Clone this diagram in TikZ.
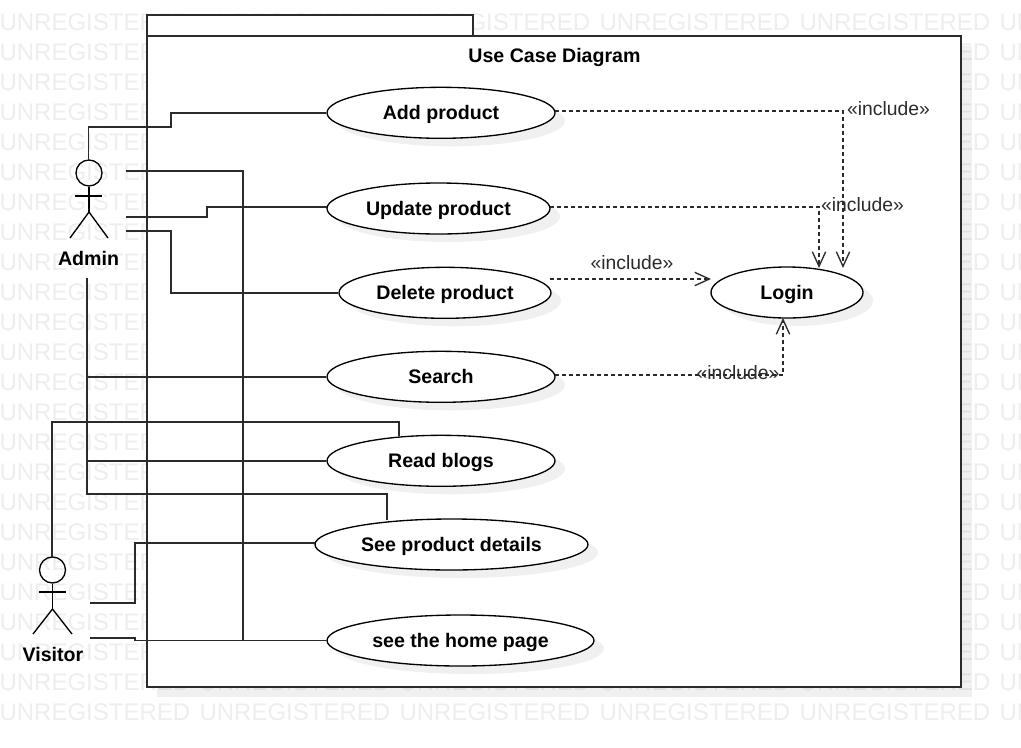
\documentclass[tikz,border=0pt]{standalone}
\usepackage{fontspec}
\setmainfont{Liberation Sans}
\usetikzlibrary{arrows.meta,shapes.geometric}
\definecolor{wm}{HTML}{EEEEEE}
\definecolor{ln}{HTML}{2B2B2B}
\tikzset{
  x=0.75pt,y=-0.75pt,
  watermark/.style={text=wm,font=\fontsize{18}{18}\selectfont,inner sep=0,anchor=west},
  frameline/.style={draw=ln,line width=1.4pt,fill=white,inner sep=0,outer sep=0,anchor=north west},
  usecase/.style={shape=ellipse,draw=black,fill=white,line width=1pt,inner sep=0,
    font=\fontsize{14.7}{16}\selectfont\bfseries,text height=10.6pt,text depth=0pt},
  castshadow/.style={fill=black,fill opacity=0.06,draw=none},
  assoc/.style={draw=ln,line width=1.25pt},
  incl/.style={draw=ln,line width=1pt,dash pattern=on 3pt off 2.25pt,
    -{Straight Barb[length=11pt,width=10pt,line width=1pt]}},
  incltext/.style={font=\fontsize{14.5}{16}\selectfont,text=ln,inner sep=0},
  actorline/.style={draw=black,line width=1pt},
  actorhead/.style={shape=circle,draw=black,line width=1pt,minimum size=19.5pt,inner sep=0},
  actorname/.style={font=\fontsize{14.7}{16}\selectfont\bfseries,inner sep=0},
}
\newcommand{\ucase}[6]{%name, x1, x2, y1, y2, text
  \fill[castshadow] ({(#2+#3)/2+10},{(#4+#5)/2+8}) ellipse [x radius={(#3-#2)/2},y radius={(#5-#4)/2}];
  \node[usecase,minimum width={(#3-#2)*0.75pt},minimum height={(#5-#4)*0.75pt}] (#1) at ({(#2+#3)/2},{(#4+#5)/2}) {#6};
}
\begin{document}
\begin{tikzpicture}
\useasboundingbox (0,0) rectangle (1021,747);
\fill[white] (0,0) rectangle (1021,747);

\begin{scope}
\clip (0,0) rectangle (1021,747);
\foreach \r in {0,...,23}{
  \foreach \c in {0,...,5}{
    \node[watermark] (wm\r c\c) at ({\c*200-0.7},{22+\r*30}) {UNREGISTERED};
  }
}
\end{scope}

% package frame
\fill[castshadow] (157,46) rectangle (971.5,697);
\node[frameline,minimum width=244.5pt,minimum height=15.75pt] (tab) at (147,15) {};
\node[frameline,minimum width=610.5pt,minimum height=488.25pt] (frame) at (147,36) {};
\node[font=\fontsize{14.7}{16}\selectfont\bfseries,inner sep=0,text height=10.6pt,text depth=0pt] (title) at (554.5,55) {Use Case Diagram};

% actors
\node[actorhead] (adminhead) at (89,173) {};
\coordinate (adminhip) at (89,212);
\coordinate (adminarmL) at (75,196);
\coordinate (adminarmR) at (102,196);
\coordinate (adminlegL) at (70,238);
\coordinate (adminlegR) at (108,238);
\draw[actorline] (adminhead) -- (adminhip);
\draw[actorline] (adminarmL) -- (adminarmR);
\draw[actorline] (adminlegL) -- (adminhip) -- (adminlegR);
\node[actorname] (admin) at (88.5,258) {Admin};

\node[actorhead] (visitorhead) at (52.5,570) {};
\coordinate (visitorhip) at (52.5,609);
\coordinate (visitorarmL) at (39,592);
\coordinate (visitorarmR) at (66,592);
\coordinate (visitorlegL) at (33,634);
\coordinate (visitorlegR) at (72,634);
\draw[actorline] (visitorhead) -- (visitorhip);
\draw[actorline] (visitorarmL) -- (visitorarmR);
\draw[actorline] (visitorlegL) -- (visitorhip) -- (visitorlegR);
\node[actorname] (visitor) at (53,654) {Visitor};

% use cases
\ucase{add}{327}{555}{87.3}{138.3}{Add product}
\ucase{update}{327}{550}{183}{234}{Update product}
\ucase{delete}{339}{551}{267.3}{318.3}{Delete product}
\ucase{login}{711}{863}{267}{318}{Login}
\ucase{search}{327}{555}{351.3}{402.3}{Search}
\ucase{read}{327}{555}{435.3}{486.3}{Read blogs}
\ucase{details}{315}{588}{519}{570}{See product details}
\ucase{home}{327}{594}{615}{666}{see the home page}

% free ends
\coordinate (a1) at (126,171);
\coordinate (a2) at (126,217);
\coordinate (a3) at (126,231);
\coordinate (a4) at (87,278);
\coordinate (v1) at (90,603);
\coordinate (v2) at (90,638);

% associations
\draw[assoc] (88.5,160) -- (88.5,127) -- (171,127) -- (171,112.8) -- (add.west);
\draw[assoc] (a1) -- (243,171) -- (243,640.5) -- (home.west);
\draw[assoc] (a2) -- (207,217) -- (207,207) -- (327,207);
\draw[assoc] (a3) -- (171,231) -- (171,292.8) -- (delete.west);
\draw[assoc] (a4) -- (87,494) -- (387,494) -- (387,519.5);
\draw[assoc] (87,376.8) -- (search.west);
\draw[assoc] (87,460.8) -- (read.west);
\draw[assoc] (52,557) -- (52,422) -- (399,422) -- (399,435.5);
\draw[assoc] (v1) -- (135,603) -- (135,543) -- (315,543);
\draw[assoc] (v2) -- (135,638) -- (135,640.5) -- (home.west);

% includes
\coordinate (i1) at (555,111);
\coordinate (i2) at (550,207);
\coordinate (i3) at (550,279);
\coordinate (i4) at (555,375);
\draw[incl] (i1) -- (843,111) -- (843,268);
\draw[incl] (i2) -- (819,207) -- (819,268);
\draw[incl] (i3) -- (711,279);
\draw[incl] (i4) -- (783,375) -- (783,318);
\node[incltext] (l1) at (888.5,108.5) {«include»};
\node[incltext] (l2) at (862.5,204.5) {«include»};
\node[incltext] (l3) at (632,262.5) {«include»};
\node[incltext] (l4) at (738,372.5) {«include»};
\end{tikzpicture}
\end{document}
